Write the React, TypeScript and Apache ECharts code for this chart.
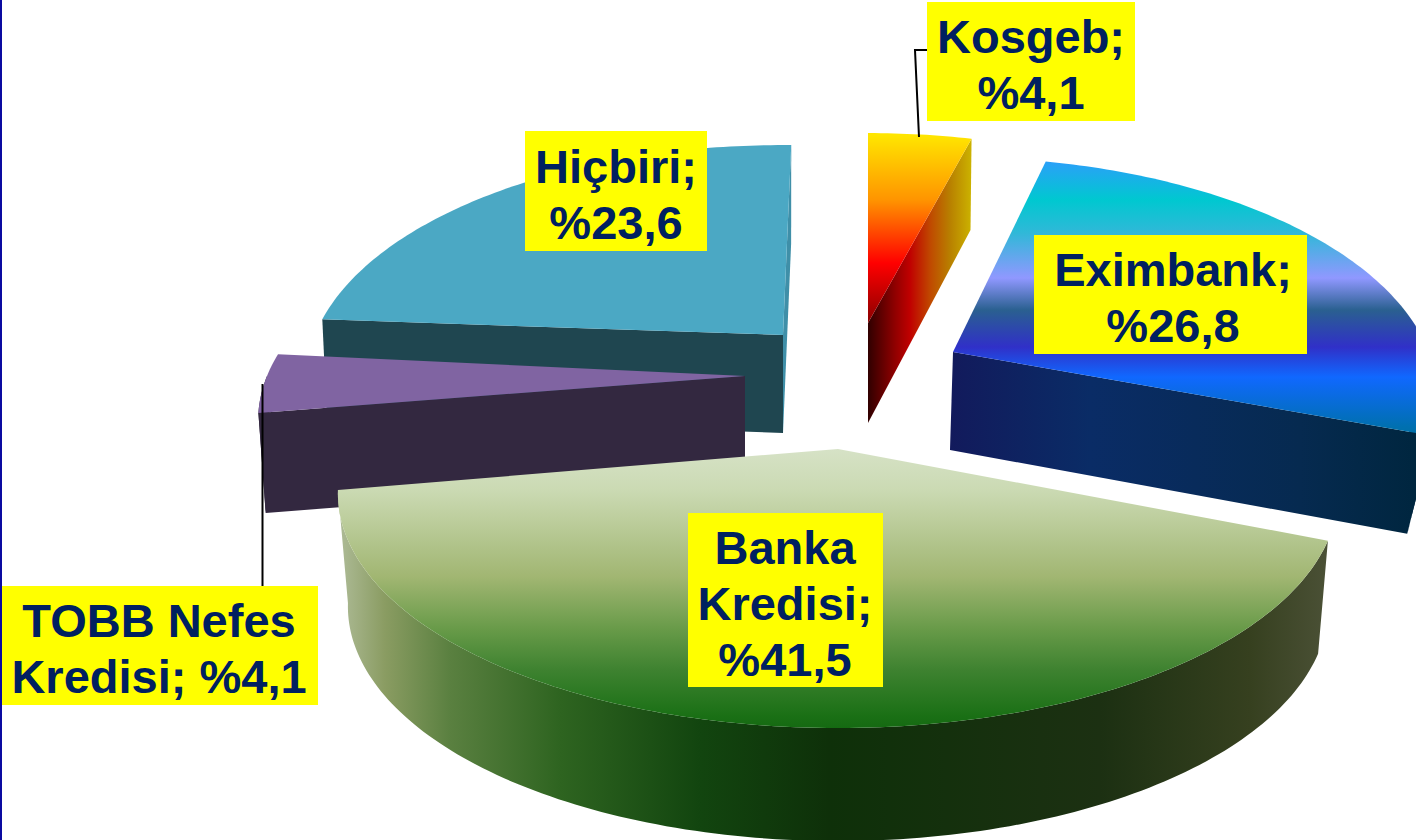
import React, { useEffect, useRef } from "react";
import * as echarts from "echarts";

// Data, in clockwise order from the top of the pie
const categories = ["Kosgeb", "Eximbank", "Banka Kredisi", "TOBB Nefes Kredisi", "Hiçbiri"];
const values = [4.1, 26.8, 41.5, 4.1, 23.6];
const labelTexts = ["Kosgeb;\n%4,1", "Eximbank;\n%26,8", "Banka\nKredisi;\n%41,5", "TOBB Nefes\nKredisi; %4,1", "Hiçbiri;\n%23,6"];
const paintOrder = [4, 0, 3, 1, 2];

const START_ANGLE = 0.5;
const PERSP = 0.19;
const TILT = 226;

const grad = (x: number, y: number, x2: number, y2: number, stops: [number, string][]) =>
  new echarts.graphic.LinearGradient(x, y, x2, y2, stops.map(([offset, color]) => ({ offset, color })), true);

const vertical = (y0: number, y1: number, stops: [number, string][]) =>
  grad(0, y0, 0, y1, stops.map(([y, c]) => [(y - y0) / (y1 - y0), c] as [number, string]));
const horizontal = (x0: number, x1: number, stops: [number, string][]) =>
  grad(x0, 0, x1, 0, stops.map(([x, c]) => [(x - x0) / (x1 - x0), c] as [number, string]));

type Look = {
  cx: number; cy: number; rx: number; s: number; da: number; d: number; bx?: number; tilt?: number;
  rot0?: number; rot1?: number;
  top: any; side?: any; face: any; faceStart?: boolean; faceEnd?: boolean; sliver?: string;
};

const looks: Look[] = [
  {
    cx: 868, cy: 323, rx: 466, s: 0.99, da: 100, d: 91, faceEnd: true, rot0: -0.5,
    top: vertical(135, 340, [[135, "#ffe600"], [200, "#ff9400"], [263, "#ff0000"], [320, "#900000"], [340, "#600000"]]),
    face: horizontal(868, 972, [[868, "#300000"], [895, "#900000"], [910, "#c00000"], [930, "#c04800"], [950, "#b88000"], [972, "#ccb400"]]),
  },
  {
    cx: 953, cy: 352, rx: 476, s: 0.955, da: 98, d: 96, bx: 950, tilt: 232, faceEnd: true, rot0: -1.9, rot1: -1.9,
    top: vertical(162, 440, [[162, "#2aa0f8"], [200, "#00c8d0"], [233, "#30b8d8"], [278, "#9098ff"], [310, "#2a6090"], [347, "#3030c8"], [377, "#1068ff"], [427, "#0070b0"], [440, "#0070a0"]]),
    side: horizontal(950, 1416, [[950, "#121a5c"], [1090, "#0a2c66"], [1300, "#062a50"], [1416, "#00263f"]]),
    face: horizontal(950, 1416, [[950, "#121a5c"], [1090, "#0a2c66"], [1300, "#062a50"], [1416, "#00263f"]]),
  },
  {
    cx: 838, cy: 449, rx: 491, s: 0.98, da: 113, d: 113, rot0: 0.5, rot1: -1,
    top: vertical(449, 728, [[449, "#d6e2c6"], [490, "#cbdab3"], [577, "#a1b672"], [630, "#679a48"], [670, "#3e8230"], [716, "#1a7015"], [728, "#156a12"]]),
    side: horizontal(336, 1325, [[336, "#b0bd9a"], [385, "#8a9c62"], [450, "#5a8040"], [560, "#2e6420"], [700, "#12450f"], [830, "#0e3009"], [1100, "#1c3012"], [1250, "#36401f"], [1325, "#4a5035"]]),
    face: "#0e3009",
  },
  {
    cx: 745, cy: 376, rx: 478, s: 0.985, da: 100, d: 101, faceStart: true,
    top: "#8064a2", side: "#332840", face: "#332840",
  },
  {
    cx: 783, cy: 335, rx: 468, s: 0.99, da: 98, d: 98, faceStart: true, faceEnd: true, sliver: "#3f8fa8", rot0: -1.6, rot1: 0.7,
    top: "#4ba8c4", face: "#1f4650",
  },
];

const project = (deg: number, L: Look, bottom: boolean): number[] => {
  const a = (deg * Math.PI) / 180;
  const z = Math.cos(a);
  const w = 1 / (1 + PERSP * z);
  const x = L.rx * Math.sin(a) * w;
  const y = -(L.tilt ?? TILT) * z * w;
  if (!bottom) return [L.cx + x, L.cy + y];
  return [(L.bx ?? L.cx) + x * L.s, L.cy + L.da + y + (L.d - L.da) * (z > 0 ? z : 0)];
};

const arc = (a0: number, a1: number, L: Look, bottom: boolean): number[][] => {
  const n = Math.max(2, Math.ceil(Math.abs(a1 - a0)));
  const pts: number[][] = [];
  for (let i = 0; i <= n; i++) pts.push(project(a0 + ((a1 - a0) * i) / n, L, bottom));
  return pts;
};

const total = values.reduce((a, b) => a + b, 0);
const sliceAngles = (index: number): [number, number] => {
  let acc = 0;
  for (let i = 0; i < index; i++) acc += values[i];
  const L = looks[index];
  return [
    START_ANGLE + (acc / total) * 360 + (L.rot0 ?? 0),
    START_ANGLE + ((acc + values[index]) / total) * 360 + (L.rot1 ?? 0),
  ];
};

const poly = (points: number[][], fill: any) => ({
  type: "polygon",
  shape: { points },
  style: { fill, stroke: null },
});

const renderSlice = (_p: any, api: any) => {
  const index = api.value(0) as number;
  const L = looks[index];
  const [a0, a1] = sliceAngles(index);
  const children: any[] = [];
  const apexBottom = [L.bx ?? L.cx, L.cy + L.da];
  const apex = [L.cx, L.cy];
  if (L.sliver) {
    children.push(poly([apex, project(a1, L, false), project(a1, L, true), apexBottom], L.sliver));
  }
  const r0 = Math.max(a0, 90);
  const r1 = Math.min(a1, 270);
  if (r1 > r0 && L.side) {
    children.push(poly([...arc(r0, r1, L, false), ...arc(r1, r0, L, true)], L.side));
  }
  if (L.faceStart) children.push(poly([apex, project(a0, L, false), project(a0, L, true), apexBottom], L.face));
  if (L.faceEnd && !L.sliver) children.push(poly([apex, project(a1, L, false), project(a1, L, true), apexBottom], L.face));
  children.push(poly([apex, ...arc(a0, a1, L, false)], L.top));
  return { type: "group", children };
};

const NAVY = "#002060";
const FONT = 'bold 47px "Liberation Sans", Arial, sans-serif';
const boxes = [
  { x: 927, y: 2, w: 208, h: 119, tx: 1031 },
  { x: 1034, y: 235, w: 273, h: 119, tx: 1173 },
  { x: 688, y: 513, w: 195, h: 174, tx: 785 },
  { x: 2, y: 586, w: 316, h: 119, tx: 159 },
  { x: 525, y: 131, w: 182, h: 120, tx: 616 },
];

export default function App() {
  const ref = useRef<HTMLDivElement>(null);
  useEffect(() => {
    const chart = echarts.init(ref.current!, undefined, { renderer: "svg" });
    const graphic: any[] = [
      { type: "rect", z: 5, shape: { x: 0, y: 0, width: 2, height: 840 }, style: { fill: "#0a0aa0" } },
      { type: "polyline", z: 6, shape: { points: [[919, 137], [915, 50], [927, 50]] }, style: { stroke: "#000", lineWidth: 2, fill: null } },
      { type: "line", z: 6, shape: { x1: 262.5, y1: 384, x2: 262.5, y2: 586 }, style: { stroke: "#000", lineWidth: 2 } },
    ];
    boxes.forEach((b, i) => {
      graphic.push({ type: "rect", z: 7, shape: { x: b.x, y: b.y, width: b.w, height: b.h }, style: { fill: "#ffff00" } });
      graphic.push({
        type: "text", z: 8, x: b.tx, y: b.y + b.h / 2 + 3,
        style: { text: labelTexts[i], font: FONT, fill: NAVY, align: "center", verticalAlign: "middle", lineHeight: 56 },
      });
    });
    chart.setOption({
      animation: false,
      backgroundColor: "#ffffff",
      series: [
        {
          type: "custom",
          name: "Kaynak",
          coordinateSystem: "none",
          renderItem: renderSlice,
          silent: true,
          clip: false,
          data: paintOrder.map((i) => ({ name: categories[i], value: [i, values[i]] })),
        },
      ],
      graphic,
    });
    return () => chart.dispose();
  }, []);
  return <div ref={ref} style={{ position: "absolute", left: 0, top: 0, width: 1416, height: 840, overflow: "hidden" }} />;
}
